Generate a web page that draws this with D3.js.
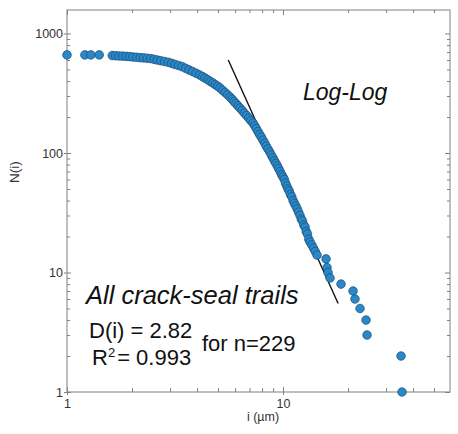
<!DOCTYPE html>
<html>
<head>
<meta charset="utf-8">
<script src="https://cdn.jsdelivr.net/npm/d3@7"></script>
<style>
  html, body { margin: 0; padding: 0; background: #fff; }
  svg { display: block; }
  text { font-family: "Liberation Sans", Arial, Helvetica, sans-serif; }
</style>
</head>
<body>
<script>
// ---- data (log-log cumulative plot) ----
const sizeUm = [
  1.00, 1.21, 1.29, 1.41,
  1.62, 1.68, 1.74, 1.81, 1.88, 1.95, 2.02, 2.10, 2.18, 2.26, 2.35, 2.44, 2.53,
  2.62, 2.72, 2.83, 2.94, 3.05, 3.16, 3.28, 3.41, 3.54, 3.67, 3.81, 3.96, 4.11,
  4.24, 4.36, 4.49, 4.61, 4.74,
  4.86, 4.99, 5.11,
  5.25, 5.39, 5.54, 5.68,
  5.81, 5.93, 6.06, 6.19, 6.32,
  6.47, 6.62, 6.78, 6.94, 7.09, 7.26,
  7.40, 7.52, 7.66, 7.80, 7.93, 8.08,
  8.23, 8.37, 8.52, 8.68, 8.83, 8.99,
  9.12, 9.27, 9.41, 9.55, 9.70, 9.85, 10.0,
  10.14, 10.27, 10.41, 10.55, 10.69, 10.83, 10.98, 11.13,
  11.29, 11.47, 11.63, 11.81, 11.99,
  12.15, 12.31, 12.48, 12.65,
  12.81, 12.98, 13.16, 13.34,
  13.59, 13.84, 14.10, 14.37,
  15.82, 15.99, 16.16, 16.51, 18.56, 21.10, 21.54, 22.73, 24.23, 24.49, 35.18, 35.56
];
const countN = [
  662, 662, 662, 662,
  654, 652, 649, 647, 644, 641, 636, 632, 628, 625, 621, 617, 608,
  600, 591, 583, 574, 563, 551, 540, 528, 512, 496, 481, 465, 450,
  436, 423, 410, 397, 385,
  373, 362, 350,
  335, 321, 307, 294,
  282, 270, 259, 248, 238,
  227, 216, 206, 196, 187, 178,
  169, 160, 151, 143, 136, 128,
  121, 114, 108, 102, 96, 91,
  86, 82, 78, 74, 70, 66, 63,
  60, 56, 53, 50, 48, 45, 43, 40,
  38, 36, 34, 32, 30,
  28, 27, 25, 24,
  22, 21, 19, 18,
  17, 16, 15, 14,
  13, 11, 10, 9, 8, 7, 6, 5, 4, 3, 2, 1
];
// fitted power-law line end points
const fitX = [5.58, 18.0];
const fitN = [600, 5.5];

const xMajor = [1, 10];
const xMinor = [2, 3, 4, 5, 6, 7, 8, 9, 20, 30, 40, 50];
const yMajor = [1, 10, 100, 1000];
const yMinor = [2, 3, 4, 5, 6, 7, 8, 9, 20, 30, 40, 50, 60, 70, 80, 90,
                200, 300, 400, 500, 600, 700, 800, 900];
const xDomain = [1, 59.3];
const yDomain = [1, 1573];

// ---- layout ----
const W = 458, H = 434;
const L = 67, R = 450, T = 10, B = 392;
const axisColor = "#808080";
const labelColor = "#333";

const svg = d3.select("body").append("svg").attr("width", W).attr("height", H);
svg.append("rect").attr("width", W).attr("height", H).attr("fill", "#fff");

const x = d3.scaleLog().domain(xDomain).range([L, R]);
const y = d3.scaleLog().domain(yDomain).range([B, T]);

function styleAxis(g) {
  g.select(".domain").remove();
  g.selectAll(".tick line").attr("stroke", axisColor);
  g.selectAll(".tick text").attr("fill", labelColor).attr("font-size", 12.5)
    .attr("font-family", "'Liberation Sans', Arial, sans-serif");
}

// bottom axis: majors with labels (crossing), minors inward
const gxB = svg.append("g").attr("transform", `translate(0,${B})`)
  .call(d3.axisBottom(x).tickValues(xMajor).tickFormat(d3.format("d")).tickSize(4).tickPadding(3));
gxB.selectAll(".tick line").attr("y1", -5).attr("y2", 3);
styleAxis(gxB);
const gxBm = svg.append("g").attr("transform", `translate(0,${B})`)
  .call(d3.axisTop(x).tickValues(xMinor).tickFormat("").tickSize(4));
styleAxis(gxBm);

// top mirror
const gxT = svg.append("g").attr("transform", `translate(0,${T})`)
  .call(d3.axisBottom(x).tickValues(xMajor).tickFormat("").tickSize(5));
styleAxis(gxT);
const gxTm = svg.append("g").attr("transform", `translate(0,${T})`)
  .call(d3.axisBottom(x).tickValues(xMinor).tickFormat("").tickSize(3));
styleAxis(gxTm);

// left axis
const gyL = svg.append("g").attr("transform", `translate(${L},0)`)
  .call(d3.axisLeft(y).tickValues(yMajor).tickFormat(d3.format("d")).tickSize(3).tickPadding(1));
gyL.selectAll(".tick line").attr("x1", 4).attr("x2", -3);
styleAxis(gyL);
const gyLm = svg.append("g").attr("transform", `translate(${L},0)`)
  .call(d3.axisRight(y).tickValues(yMinor).tickFormat("").tickSize(3));
styleAxis(gyLm);

// right mirror
const gyR = svg.append("g").attr("transform", `translate(${R},0)`)
  .call(d3.axisLeft(y).tickValues(yMajor).tickFormat("").tickSize(5));
styleAxis(gyR);
const gyRm = svg.append("g").attr("transform", `translate(${R},0)`)
  .call(d3.axisLeft(y).tickValues(yMinor).tickFormat("").tickSize(3));
styleAxis(gyRm);

// frame
svg.append("rect").attr("x", L).attr("y", T).attr("width", R - L).attr("height", B - T)
  .attr("fill", "none").attr("stroke", axisColor).attr("stroke-width", 1);

// axis titles
svg.append("text").attr("x", 263).attr("y", 421).attr("text-anchor", "middle")
  .attr("font-size", 12.5).attr("fill", labelColor).text("i (µm)");
svg.append("text").attr("transform", "translate(19,172) rotate(-90)").attr("text-anchor", "middle")
  .attr("font-size", 13.5).attr("fill", labelColor).text("N(i)");

// fitted line (drawn beneath the markers)
const fit = fitX.map((s, i) => [s, fitN[i]]);
svg.append("path").datum(fit)
  .attr("d", d3.line().x(d => x(d[0])).y(d => y(d[1])))
  .attr("stroke", "#111").attr("stroke-width", 1.4).attr("fill", "none");

// data points
const pts = sizeUm.map((s, i) => ({ s, n: countN[i] }));
svg.append("g").selectAll("circle").data(pts).join("circle")
  .attr("cx", d => x(d.s)).attr("cy", d => y(d.n)).attr("r", 4.3)
  .attr("fill", "#2a87c8").attr("stroke", "#1b4c74").attr("stroke-width", 0.7);

// annotations
svg.append("text").attr("x", 303).attr("y", 100).attr("font-size", 23).attr("font-style", "italic")
  .attr("fill", "#111").text("Log-Log");
svg.append("text").attr("x", 86).attr("y", 304).attr("font-size", 25.5).attr("font-style", "italic")
  .attr("fill", "#111").text("All crack-seal trails");
svg.append("text").attr("x", 89).attr("y", 338).attr("font-size", 22)
  .attr("fill", "#111").text("D(i) = 2.82");
const r2 = svg.append("text").attr("x", 92).attr("y", 365).attr("font-size", 22).attr("fill", "#111");
r2.append("tspan").text("R");
r2.append("tspan").attr("font-size", 13).attr("dy", -8).text("2");
r2.append("tspan").attr("dy", 8).attr("dx", 2).text("= 0.993");
svg.append("text").attr("x", 202).attr("y", 351).attr("font-size", 22)
  .attr("fill", "#111").text("for n=229");
</script>
</body>
</html>
